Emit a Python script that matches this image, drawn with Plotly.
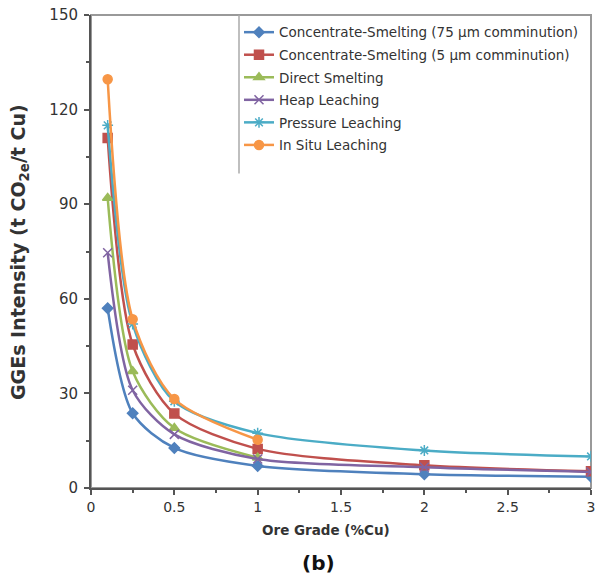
import plotly.graph_objects as go

grades = [0.1, 0.25, 0.5, 1, 2, 3]
grades_short = [0.1, 0.25, 0.5, 1]

names = [
    "Concentrate-Smelting (75 µm comminution)",
    "Concentrate-Smelting (5 µm comminution)",
    "Direct Smelting",
    "Heap Leaching",
    "Pressure Leaching",
    "In Situ Leaching",
]
cs75 = [57, 23.7, 12.7, 7.0, 4.4, 3.6]
cs5 = [111, 45.5, 23.6, 12.4, 7.2, 5.3]
direct = [92, 37, 19, 9.6]
heap = [74.6, 31, 17, 9.2, 6.6, 5.1]
pressure = [115, 52, 27.5, 17.4, 11.9, 10.0]
insitu = [129.6, 53.5, 28.2, 15.3]

xs_list = [grades, grades, grades_short, grades, grades, grades_short]
ys_list = [cs75, cs5, direct, heap, pressure, insitu]
colors = ["#4F81BD", "#C0504D", "#9BBB59", "#8064A2", "#4BACC6", "#F79646"]
symbols = ["diamond", "square", "triangle-up", "x-thin-open", "asterisk-open", "circle"]
sizes = [8, 9, 9, 9, 9, 9]

y_ticks = [0, 30, 60, 90, 120, 150]
x_ticks = [0, 0.5, 1, 1.5, 2, 2.5, 3]
x_tick_labels = ["0", "0.5", "1", "1.5", "2", "2.5", "3"]

FAM = "DejaVu Sans, Verdana, sans-serif"
TXT = "#333333"

fig = go.Figure()
for i, (n, xs, ys, c, s, sz) in enumerate(zip(names, xs_list, ys_list, colors, symbols, sizes)):
    fig.add_trace(go.Scatter(
        x=xs, y=ys, name=n, mode="lines+markers", legendgroup=f"g{i}",
        line=dict(color=c, width=2.5, shape="spline", smoothing=0.8),
        marker=dict(symbol=s, size=sz, color=c, line=dict(color=c, width=1.5)),
    ))

fig.update_layout(
    width=597, height=578,
    margin=dict(l=91, r=6, t=15, b=90),
    paper_bgcolor="white", plot_bgcolor="white",
    font=dict(family=FAM, size=14, color=TXT),
    showlegend=True,
    legend=dict(
        x=0.296, y=0.996, xanchor="left", yanchor="top",
        bgcolor="rgba(0,0,0,0)", borderwidth=0,
        font=dict(family=FAM, size=13.5, color=TXT),
        itemwidth=30, tracegroupgap=2,
    ),
    xaxis=dict(
        range=[0, 3], tickvals=x_ticks, ticktext=x_tick_labels,
        automargin=False,
        showgrid=False, zeroline=False,
        showline=True, linecolor="#555555", linewidth=2,
        ticks="outside", ticklen=5, tickcolor="#555555", tickwidth=1.5,
        minor=dict(dtick=0.25, ticks="outside", ticklen=3, tickcolor="#555555"),
        tickfont=dict(family=FAM, size=14, color=TXT),
    ),
    yaxis=dict(
        range=[0, 150], tickvals=y_ticks,
        automargin=False,
        showgrid=False, zeroline=False,
        showline=True, linecolor="#555555", linewidth=2,
        ticks="outside", ticklen=5, tickcolor="#555555", tickwidth=1.5,
        minor=dict(dtick=15, ticks="outside", ticklen=3, tickcolor="#555555"),
        tickfont=dict(family=FAM, size=15, color=TXT),
        ticklabelstandoff=3,
    ),
    shapes=[
        dict(type="rect", xref="paper", yref="paper", x0=0, x1=1, y0=0, y1=1,
             line=dict(color="#999999", width=2), layer="below"),
        dict(type="line", xref="paper", yref="paper", x0=0.296, x1=0.296, y0=1, y1=0.665,
             line=dict(color="#aaaaaa", width=1.5), layer="below"),
    ],
    annotations=[
        dict(text="<b>Ore Grade (%Cu)</b>", xref="paper", yref="paper", x=0.47, y=-0.089,
             xanchor="center", yanchor="middle", showarrow=False,
             font=dict(family=FAM, size=13.5, color=TXT)),
        dict(text="<b>GGEs Intensity (t CO<sub>2e</sub>/t Cu)</b>", xref="paper", yref="paper",
             x=-0.142, y=0.499, xanchor="center", yanchor="middle", showarrow=False,
             textangle=-90, font=dict(family=FAM, size=19, color=TXT)),
        dict(text="<b>(b)</b>", xref="paper", yref="paper", x=0.454, y=-0.1586,
             xanchor="center", yanchor="middle", showarrow=False,
             font=dict(family=FAM, size=20, color="#111111")),
    ],
)

fig.write_html(
    "out.html",
    config={"displayModeBar": False},
    post_script="document.body.style.margin='0';document.body.style.padding='0';",
)
